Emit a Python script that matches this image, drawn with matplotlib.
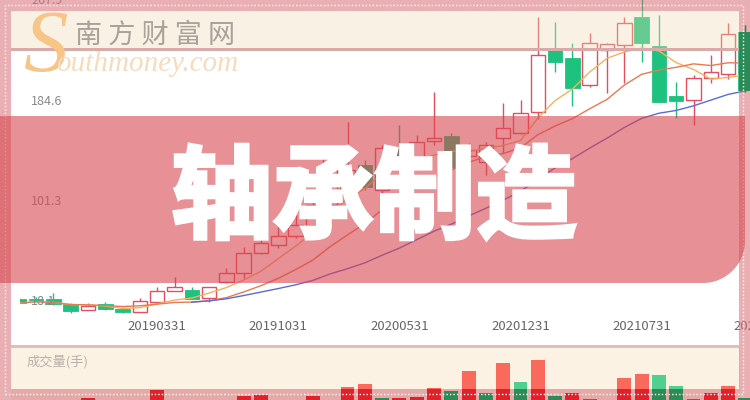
import numpy as np
import pandas as pd
import matplotlib.pyplot as plt
import matplotlib.patheffects as pe
from matplotlib.patches import Rectangle, PathPatch
from matplotlib.path import Path
from matplotlib.transforms import Bbox, TransformedBbox, Affine2D, blended_transform_factory

W, H = 750, 400

# monthly k-line, 2018-07 .. 2022-01
opens = [20.3, 20.3, 20.3, 16.2, 11.2, 16.2, 12.0, 9.5, 18.1, 27.0,
         27.8, 20.9, 34.2, 41.7, 58.3, 65.2, 72.6, 80.9, 98.4, 106.7,
         131.6, 110.8, 144.9, 138.5, 151.8, 155.7, 139.1, 134.3, 153.8, 157.9,
         175.3, 227.1, 220.7, 198.0, 227.1, 231.2, 254.7, 230.6, 188.9, 185.6,
         203.6, 207.1, 242.3]
closes = [17.0, 19.1, 16.2, 10.6, 14.5, 11.8, 9.5, 18.9, 27.0, 30.1,
          20.3, 30.1, 41.7, 58.3, 66.6, 72.6, 81.8, 98.4, 138.2, 127.4,
          113.6, 145.7, 134.3, 150.9, 154.3, 130.2, 144.0, 148.2, 162.1, 175.0,
          222.9, 217.3, 195.8, 233.1, 231.8, 249.2, 233.1, 184.1, 184.7, 203.6,
          208.8, 240.3, 193.9]
highs = [22.0, 21.6, 25.3, 17.0, 17.0, 17.9, 13.7, 20.9, 30.3, 38.4,
         30.1, 30.3, 45.8, 63.8, 79.3, 81.8, 90.1, 104.2, 146.5, 167.3,
         135.7, 148.2, 164.8, 156.5, 192.2, 158.2, 149.9, 150.9, 183.1, 185.6,
         254.7, 250.6, 232.9, 241.2, 232.5, 254.7, 271.1, 256.1, 200.7, 206.3,
         222.9, 249.7, 247.8]
lows = [16.2, 18.7, 15.4, 8.7, 10.8, 11.6, 9.1, 9.3, 17.9, 26.8,
        20.0, 18.1, 34.0, 37.8, 58.0, 62.7, 71.0, 79.3, 96.7, 104.2,
        110.8, 106.7, 131.6, 135.7, 148.2, 127.4, 135.7, 123.3, 141.6, 157.5,
        169.8, 209.0, 180.6, 196.6, 191.1, 199.4, 217.3, 183.8, 170.4, 164.8,
        199.4, 203.0, 192.2]
volumes = [0.6, 0.5, 0.7, 0.6, 1.2, 0.7, 0.6, 0.8, 2.0, 0.8,
           0.7, 0.9, 0.8, 1.4, 1.5, 0.8, 0.9, 1.4, 0.9, 2.3,
           2.6, 1.2, 1.2, 1.3, 2.2, 1.9, 3.9, 1.7, 4.7, 2.8,
           5.0, 1.4, 1.7, 1.1, 0.8, 3.2, 3.6, 3.5, 2.4, 1.1,
           1.7, 2.4, 1.2]
vol_up = [0, 0, 0, 0, 1, 0, 0, 1, 1, 1,
          0, 1, 1, 1, 1, 1, 1, 1, 1, 1,
          1, 0, 1, 1, 1, 0, 1, 0, 1, 0,
          1, 0, 1, 0, 1, 1, 1, 0, 0, 0,
          1, 1, 0]
tick_pos = [8, 15, 22, 29, 36, 43]
tick_labels = ['20190331', '20191031', '20200531', '20201231', '20210731', '20220228']
price_ticks = [267.9, 184.6, 101.3, 18.1]

plt.rcParams['font.family'] = ['Noto Sans CJK SC', 'DejaVu Sans']

fig = plt.figure(figsize=(7.5, 4), dpi=100)
fig.patch.set_facecolor('white')


def box(x0, y0, x1, y1):
    # pixel box measured from the top-left corner -> figure fraction
    return [x0 / W, 1 - y1 / H, (x1 - x0) / W, (y1 - y0) / H]


def fig_rect(x0, y0, x1, y1, **kw):
    l, b, w, h = box(x0, y0, x1, y1)
    r = Rectangle((l, b), w, h, transform=fig.transFigure, **kw)
    fig.patches.append(r)
    return r


def clip_to(ax, x0, y0, x1, y1):
    l, b, w, h = box(x0, y0, x1, y1)
    cb = TransformedBbox(Bbox.from_bounds(l, b, w, h), fig.transFigure)
    for a in list(ax.patches) + list(ax.collections) + list(ax.lines):
        a.set_clip_box(cb)


XLIM = ((20 - 18.8) / 17.3, (750 - 18.8) / 17.3)
YLIM = (-17.85, 268.57)

o, c = np.array(opens), np.array(closes)
hi, lo = np.array(highs), np.array(lows)
idx = np.arange(len(o))
up = c >= o


def draw_candles(ax, up_col, down_col, up_fill):
    cols = [up_col if u else down_col for u in up]
    ax.vlines(idx, lo, hi, colors=cols, lw=1, zorder=1)
    bot = np.minimum(o, c)
    hgt = np.maximum(np.abs(c - o), 0.4)
    ax.bar(idx[up], hgt[up], bottom=bot[up], width=0.84, facecolor=up_fill,
           edgecolor=up_col, lw=1, zorder=2)
    ax.bar(idx[~up], hgt[~up], bottom=bot[~up], width=0.84, facecolor=down_col,
           edgecolor=down_col, lw=0.6, zorder=2)
    ax.set_xlim(*XLIM)
    ax.set_ylim(*YLIM)
    ax.axis('off')


def draw_volume(ax, red, green):
    ax.bar(idx, volumes, width=0.8, color=[red if u else green for u in vol_up])
    ax.set_xlim(*XLIM)
    ax.set_ylim(0, 6.2)
    ax.axis('off')


# background panels
fig_rect(11, 347, 739, 400, color='#fcf2e4', zorder=-1)

# price panel
ax = fig.add_axes(box(20, 0, 750, 345))
ax.set_facecolor('none')
draw_candles(ax, '#e2505e', '#1ec27f', 'white')
cs = pd.Series(closes)
ax.plot(idx, cs.rolling(5, min_periods=1).mean(), color='#f4b25e', lw=1, zorder=3)
ax.plot(idx, cs.rolling(10, min_periods=1).mean(), color='#e87a52', lw=1, zorder=3)
ax.plot(idx, cs.rolling(20, min_periods=11).mean(), color='#5a6cd2', lw=1, zorder=3)
ytr = blended_transform_factory(ax.transAxes, ax.transData)
for p in price_ticks:
    ax.text((31 - 20) / 730, p, f'{p:.1f}', transform=ytr,
            ha='left', va='center', fontsize=9, color='#8a8a8a')
xtr = blended_transform_factory(ax.transData, ax.transAxes)
for t, lab in zip(tick_pos, tick_labels):
    ax.text(t, (345 - 326) / 345, lab, transform=xtr,
            ha='center', va='center', fontsize=9.5, color='#666666', clip_on=False)

# volume panel
axv = fig.add_axes(box(20, 348, 750, 410))
axv.set_facecolor('none')
draw_volume(axv, '#f96a5d', '#50cf8e')
axv.text((27 - 20) / 730, (410 - 362) / 62, '成交量(手)', transform=axv.transAxes,
         ha='left', va='center', fontsize=9.5, color='#b8b0a9')

# cream top band and divider lines
fig_rect(11, 11, 739, 49, color=(240 / 255, 220 / 255, 180 / 255), alpha=0.35, lw=0, zorder=1)
fig_rect(11, 48, 739, 50.5, color='#dba9a8', lw=0, zorder=1.5)
fig_rect(11, 345, 739, 347.5, color='#e2bdbc', lw=0, zorder=1.5)

# watermark
fig.text(75 / W, 1 - 35 / H, '南 方 财 富 网', fontsize=19.5, color='#a9a19a',
         ha='left', va='center', zorder=2)
fig.text(46 / W, 1 - 49 / H, 'S', family='Liberation Serif', style='italic', fontsize=64,
         color='#f7c585', ha='center', va='center', zorder=2)
fig.text(56 / W, 1 - 64 / H, 'outhmoney.com', family='Liberation Serif', style='italic',
         fontsize=21, color='#f6dbbd', ha='left', va='center', zorder=2)

# pink frame
fcol = (215 / 255, 110 / 255, 118 / 255)
for r in [(0, 0, 750, 11), (0, 389, 750, 400), (0, 11, 11, 389), (739, 11, 750, 389)]:
    fig_rect(*r, color=fcol, alpha=0.55, lw=0, zorder=3)

# darker marks seen through the frame
axd = fig.add_axes(box(20, 0, 750, 345))
axd.set_facecolor('none')
axd.set_zorder(3.5)
draw_candles(axd, '#c93444', '#2b8a58', '#e9afb4')
clip_to(axd, 739, 0, 750, 345)
axvd = fig.add_axes(box(20, 348, 750, 410))
axvd.set_facecolor('none')
axvd.set_zorder(3.5)
draw_volume(axvd, '#e1202b', '#2e8b57')
clip_to(axvd, 0, 389, 750, 400)

# dotted white border
l, b, w, h = box(5, 5, 743, 394)
fig.patches.append(Rectangle((l, b), w, h, transform=fig.transFigure, fill=False,
                             ec='white', lw=1, ls=(0, (1, 1.5)), zorder=4))

# pink title band with rounded bottom-right corner
verts = [(0, 116), (745, 116), (745, 241), (745, 264), (726, 283), (703, 283), (0, 283), (0, 116)]
codes = [Path.MOVETO, Path.LINETO, Path.LINETO, Path.CURVE4, Path.CURVE4, Path.CURVE4,
         Path.LINETO, Path.CLOSEPOLY]
px2fig = Affine2D().scale(1 / W, -1 / H).translate(0, 1) + fig.transFigure
fig.patches.append(PathPatch(Path(verts, codes), transform=px2fig, fc=(215 / 255, 70 / 255, 80 / 255),
                             alpha=0.6, lw=0, zorder=5))

fig.text(374 / W, 1 - 201 / H, '轴承制造', fontsize=73, fontweight='black', color='white',
         ha='center', va='center', zorder=6,
         path_effects=[pe.withStroke(linewidth=2.5, foreground='white', joinstyle='miter')])

fig.savefig('out.png', dpi=100)
